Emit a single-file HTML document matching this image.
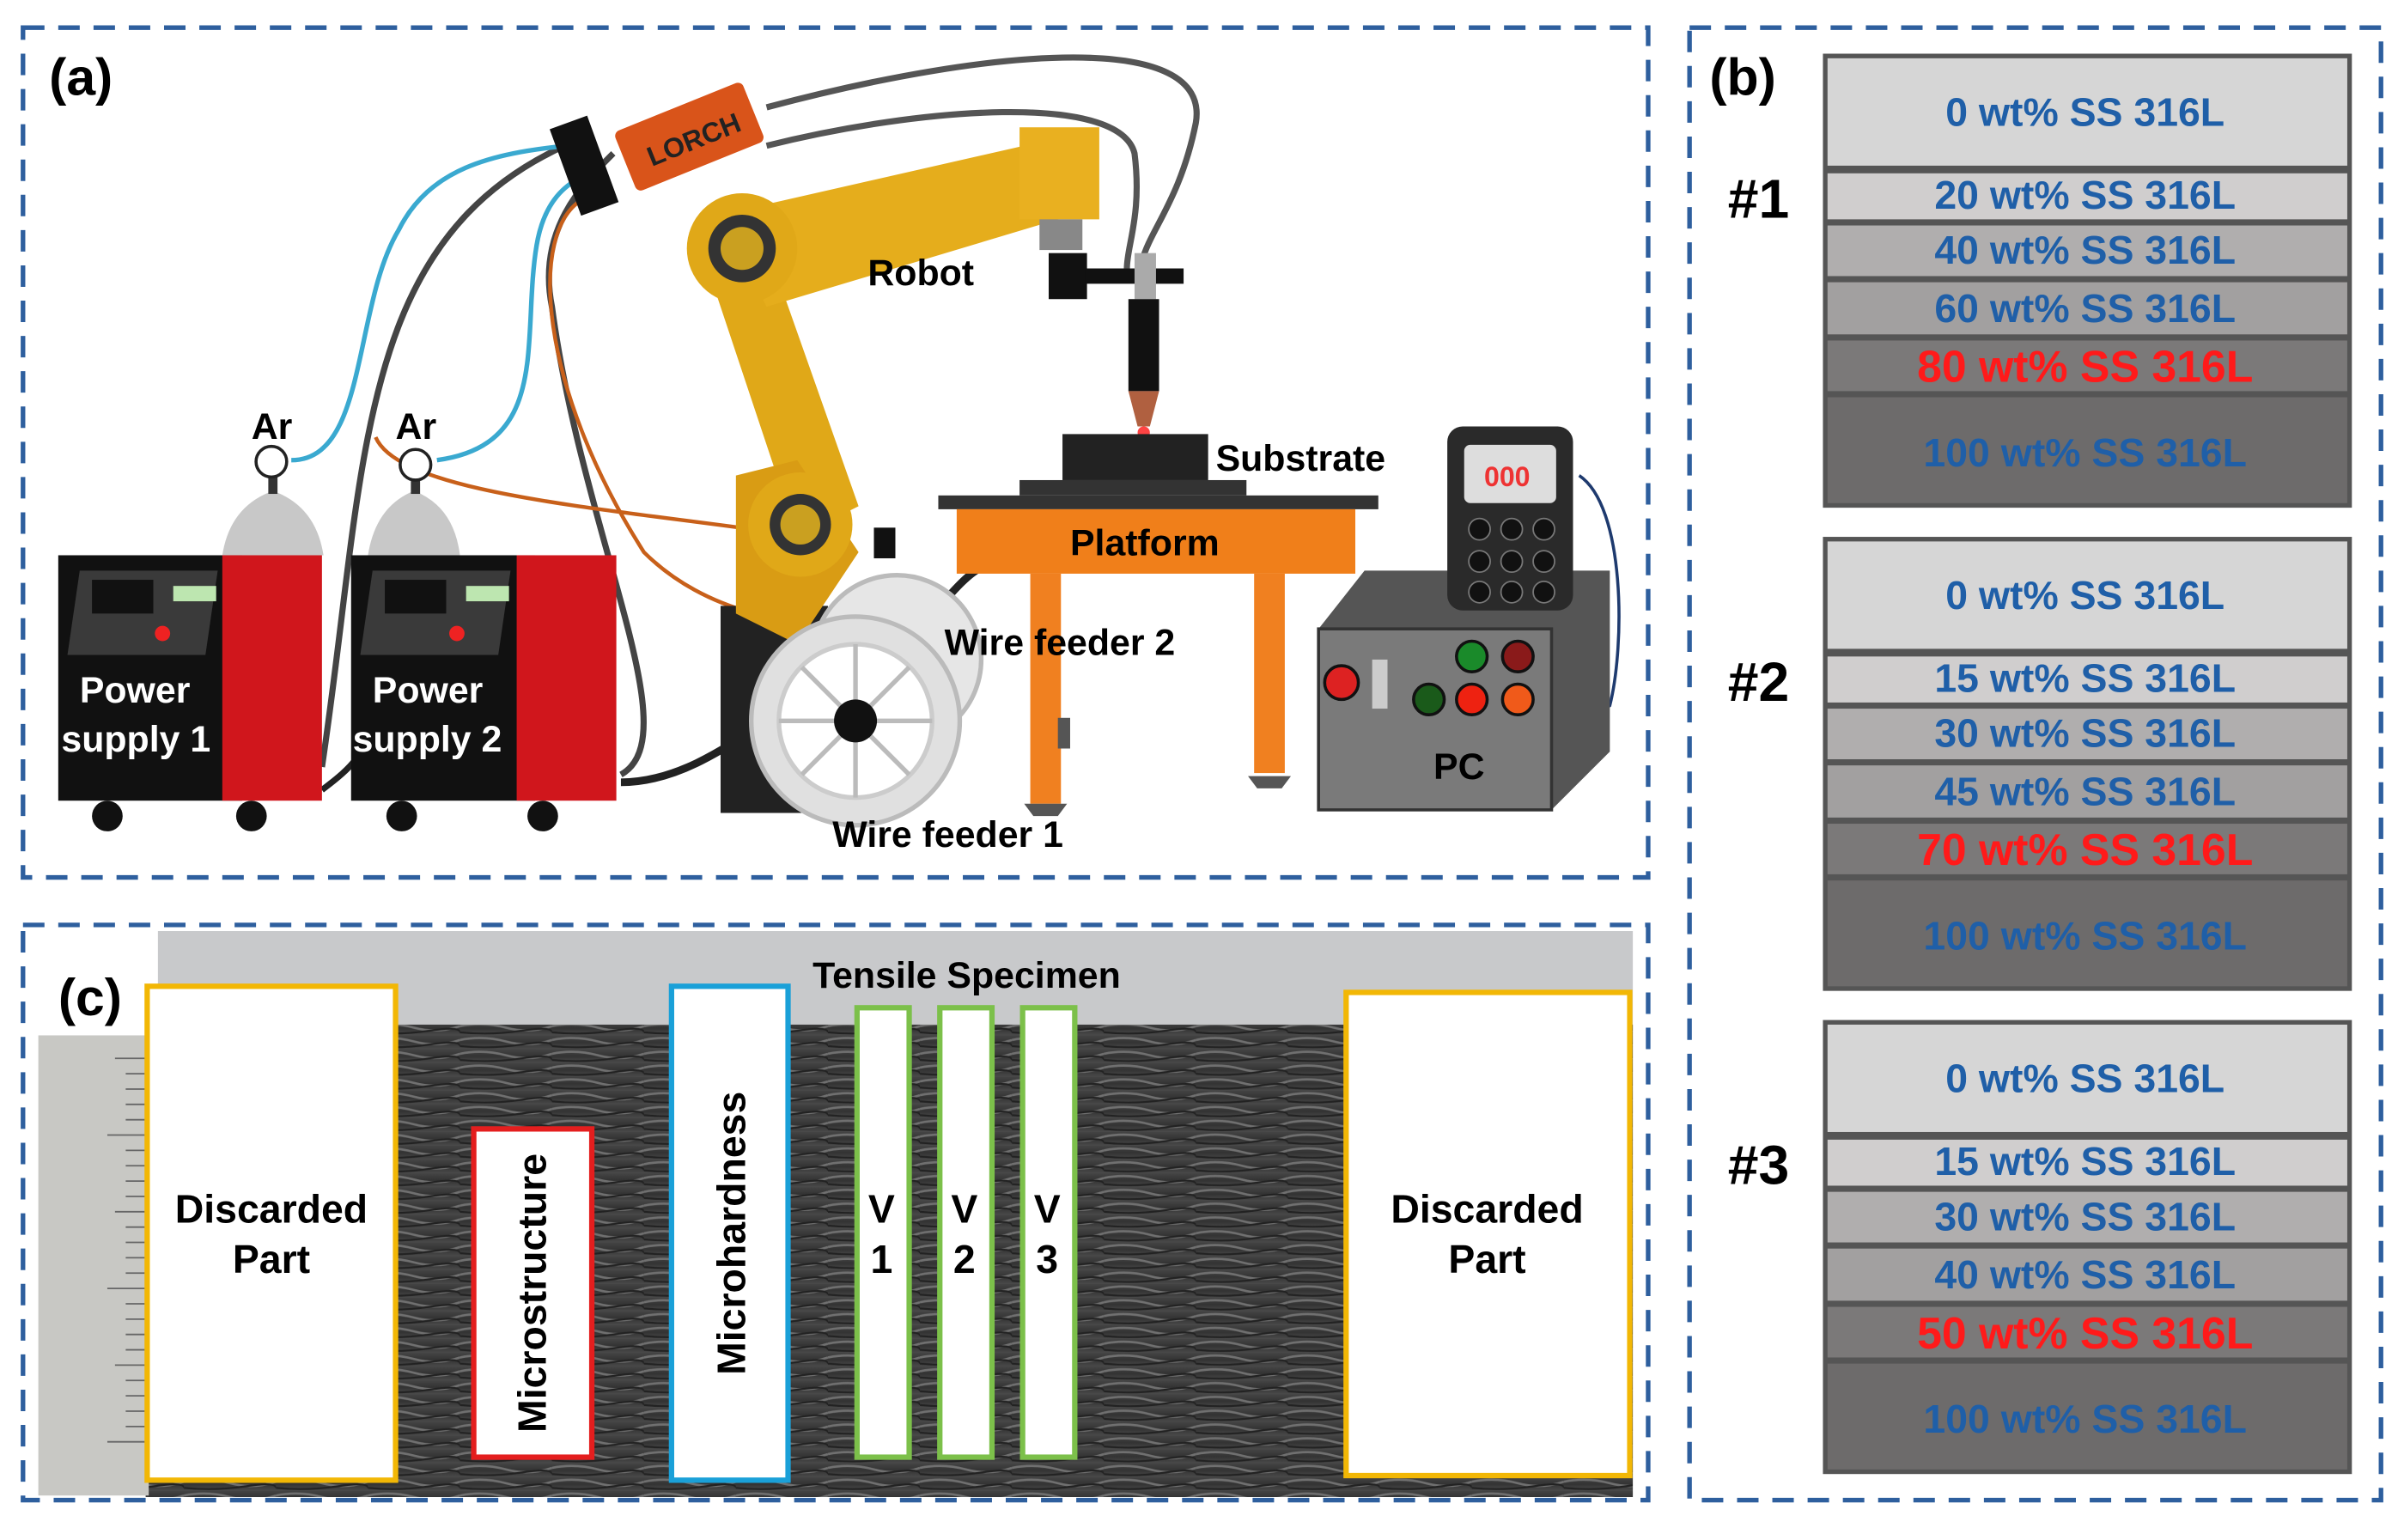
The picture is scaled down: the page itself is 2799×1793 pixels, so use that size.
<!DOCTYPE html>
<html><head><meta charset="utf-8"><style>
html,body{margin:0;padding:0;background:#fff;}
svg{display:block;}
text{font-family:"Liberation Sans",Arial,sans-serif;font-weight:bold;}
</style></head><body>
<svg width="2799" height="1793" viewBox="0 0 1568 1004" preserveAspectRatio="none" xmlns="http://www.w3.org/2000/svg">
<defs>
<linearGradient id="ph" x1="0" y1="0" x2="0" y2="1">
<stop offset="0" stop-color="#444"/><stop offset="0.5" stop-color="#333"/><stop offset="1" stop-color="#4a4a4a"/>
</linearGradient>
<pattern id="stripes" width="60" height="9" patternUnits="userSpaceOnUse">
<rect width="60" height="9" fill="url(#ph)"/>
<path d="M0 3 Q15 0 30 4 T60 3" stroke="#707070" stroke-width="1.5" fill="none"/>
<path d="M0 7 Q20 9 40 6 T60 7" stroke="#222" stroke-width="1.2" fill="none"/>
</pattern>
</defs>
<rect width="1568" height="1004" fill="#fff"/>
<!-- dashed panels -->
<g fill="none" stroke="#2e5f9e" stroke-width="3" stroke-dasharray="14 9">
<rect x="15" y="18" width="1060" height="554"/>
<rect x="1102" y="18" width="451" height="960"/>
<rect x="15" y="603" width="1060" height="375"/>
</g>
<text x="32" y="62" font-size="34">(a)</text>
<text x="1115" y="62" font-size="34">(b)</text>

<!-- panel a cables -->
<g fill="none" stroke-width="4">
<path d="M210 500 C240 300 230 150 380 90" stroke="#444"/>
<path d="M405 505 C450 480 380 350 360 200 C350 150 380 120 400 100" stroke="#444"/>
<path d="M500 70 C650 30 790 20 780 80 C770 130 750 150 745 170" stroke="#555"/>
<path d="M500 95 C600 70 730 60 740 100 C745 140 735 160 735 175" stroke="#555"/>
<path d="M190 300 C240 300 230 200 260 150 C280 110 320 100 370 95" stroke="#3aa9d0" stroke-width="3"/>
<path d="M285 300 C360 290 340 220 350 160 C355 130 370 120 380 115" stroke="#3aa9d0" stroke-width="3"/>
<path d="M245 285 C260 320 380 330 490 345" stroke="#c8601a" stroke-width="2.5"/>
<path d="M380 130 C345 150 350 250 420 360 C460 400 520 410 560 405" stroke="#c8601a" stroke-width="2.5"/>
<path d="M405 510 C440 510 470 490 500 470" stroke="#222" stroke-width="5"/>
<path d="M210 515 C230 500 240 490 240 470" stroke="#222" stroke-width="4"/>
<path d="M560 440 C600 420 620 380 640 370" stroke="#222" stroke-width="5"/>
<path d="M1030 310 C1060 330 1060 420 1050 460 L1020 480" stroke="#1e3a6e" stroke-width="2"/>
</g>
<!-- robot -->
<g>
<rect x="470" y="395" width="70" height="135" fill="#222"/>
<path d="M460 170 L500 160 L560 330 L520 350 Z" fill="#e0a818"/>
<path d="M480 310 L520 300 L560 360 L520 420 L480 400 Z" fill="#d99c14"/>
<path d="M470 140 L690 90 L700 140 L500 200 Z" fill="#e5ad1c"/>
<rect x="665" y="83" width="52" height="60" fill="#e9b020"/>
<circle cx="484" cy="162" r="36" fill="#e0a818"/><circle cx="484" cy="162" r="22" fill="#333"/><circle cx="484" cy="162" r="14" fill="#caa020"/>
<circle cx="522" cy="342" r="34" fill="#e0a818"/><circle cx="522" cy="342" r="20" fill="#333"/><circle cx="522" cy="342" r="13" fill="#caa020"/>
<rect x="678" y="143" width="28" height="20" fill="#888"/>
<rect x="684" y="165" width="25" height="30" fill="#111"/>
<rect x="708" y="175" width="64" height="10" fill="#111"/>
<rect x="740" y="165" width="14" height="30" fill="#aaa"/>
<rect x="736" y="195" width="20" height="60" fill="#111"/>
<path d="M736 255 L756 255 L750 278 L742 278 Z" fill="#b06040"/>
<circle cx="746" cy="282" r="4" fill="#f44"/>
</g>
<!-- LORCH -->
<g transform="rotate(-22 450 90)">
<rect x="405" y="68" width="90" height="42" rx="4" fill="#d9541a"/>
<text x="420" y="98" font-size="18" fill="#222" font-weight="normal">LORCH</text>
</g>
<rect x="368" y="78" width="26" height="60" fill="#111" transform="rotate(-20 381 108)"/>
<text x="566" y="186" font-size="24">Robot</text>
<!-- substrate/platform -->
<rect x="693" y="283" width="95" height="30" fill="#222"/>
<rect x="665" y="313" width="148" height="10" fill="#333"/>
<rect x="612" y="323" width="287" height="9" fill="#333"/>
<text x="793" y="307" font-size="24">Substrate</text>
<rect x="624" y="332" width="260" height="42" fill="#f07f1a"/>
<text x="698" y="362" font-size="24">Platform</text>
<rect x="672" y="374" width="20" height="150" fill="#f08020"/>
<rect x="818" y="374" width="20" height="130" fill="#f08020"/>
<path d="M668 524 h28 l-6 8 h-16z" fill="#555"/>
<path d="M814 506 h28 l-6 8 h-16z" fill="#555"/>
<rect x="690" y="468" width="8" height="20" fill="#555"/>
<!-- wire feeders -->
<circle cx="585" cy="430" r="55" fill="#e6e6e6" stroke="#bbb" stroke-width="3"/>
<rect x="570" y="344" width="14" height="20" fill="#111"/>
<circle cx="558" cy="470" r="68" fill="#e0e0e0" stroke="#bbb" stroke-width="3"/>
<circle cx="558" cy="470" r="50" fill="#fff" stroke="#ccc" stroke-width="3"/>
<g stroke="#bbb" stroke-width="3"><path d="M508 470 H608 M558 420 V520 M523 435 L593 505 M593 435 L523 505"/></g>
<circle cx="558" cy="470" r="14" fill="#111"/>
<text x="616" y="427" font-size="24">Wire feeder 2</text>
<text x="543" y="552" font-size="24">Wire feeder 1</text>
<!-- gas cylinders -->
<path d="M145 362 Q150 330 178 320 Q206 330 211 362 Z" fill="#c8c8c8"/>
<path d="M240 362 Q245 330 270 320 Q296 330 300 362 Z" fill="#c8c8c8"/>
<rect x="175" y="310" width="6" height="12" fill="#333"/><rect x="268" y="310" width="6" height="12" fill="#333"/>
<circle cx="177" cy="301" r="10" fill="#fff" stroke="#222" stroke-width="2"/>
<circle cx="271" cy="303" r="10" fill="#fff" stroke="#222" stroke-width="2"/>
<text x="164" y="286" font-size="24">Ar</text>
<text x="258" y="286" font-size="24">Ar</text>
<!-- power supplies -->
<g>
<rect x="38" y="362" width="120" height="160" fill="#111"/>
<rect x="145" y="362" width="65" height="160" fill="#d0161c"/>
<path d="M52 372 h90 l-8 55 h-90z" fill="#3a3a3a"/>
<rect x="60" y="378" width="40" height="22" fill="#111"/>
<rect x="113" y="382" width="28" height="10" fill="#bde6b0"/>
<circle cx="106" cy="413" r="5" fill="#e22"/>
<text x="52" y="458" font-size="24" fill="#fff">Power</text>
<text x="40" y="490" font-size="24" fill="#fff">supply 1</text>
<circle cx="70" cy="532" r="10" fill="#111"/><circle cx="164" cy="532" r="10" fill="#111"/>
<rect x="229" y="362" width="120" height="160" fill="#111"/>
<rect x="337" y="362" width="65" height="160" fill="#d0161c"/>
<path d="M243 372 h90 l-8 55 h-90z" fill="#3a3a3a"/>
<rect x="251" y="378" width="40" height="22" fill="#111"/>
<rect x="304" y="382" width="28" height="10" fill="#bde6b0"/>
<circle cx="298" cy="413" r="5" fill="#e22"/>
<text x="243" y="458" font-size="24" fill="#fff">Power</text>
<text x="230" y="490" font-size="24" fill="#fff">supply 2</text>
<circle cx="262" cy="532" r="10" fill="#111"/><circle cx="354" cy="532" r="10" fill="#111"/>
</g>
<!-- PC -->
<path d="M860 410 L890 372 L1050 372 L1050 490 L1012 528 Z" fill="#555"/>
<rect x="860" y="410" width="152" height="118" fill="#7a7a7a" stroke="#333" stroke-width="2"/>
<rect x="944" y="278" width="82" height="120" rx="10" fill="#2a2a2a"/>
<rect x="955" y="290" width="60" height="38" rx="4" fill="#ddd"/>
<text x="968" y="317" font-size="18" fill="#e33" font-weight="normal">000</text>
<g fill="#111" stroke="#777"><circle cx="965" cy="345" r="7"/><circle cx="986" cy="345" r="7"/><circle cx="1007" cy="345" r="7"/><circle cx="965" cy="366" r="7"/><circle cx="986" cy="366" r="7"/><circle cx="1007" cy="366" r="7"/><circle cx="965" cy="386" r="7"/><circle cx="986" cy="386" r="7"/><circle cx="1007" cy="386" r="7"/></g>
<circle cx="960" cy="428" r="10" fill="#1a8a2a" stroke="#111" stroke-width="2"/>
<circle cx="990" cy="428" r="10" fill="#8a1a1a" stroke="#111" stroke-width="2"/>
<circle cx="932" cy="456" r="10" fill="#1a5a1a" stroke="#111" stroke-width="2"/>
<circle cx="960" cy="456" r="10" fill="#e21" stroke="#111" stroke-width="2"/>
<circle cx="990" cy="456" r="10" fill="#f05a1a" stroke="#111" stroke-width="2"/>
<circle cx="875" cy="445" r="11" fill="#d22" stroke="#111" stroke-width="2"/>
<rect x="895" y="430" width="10" height="32" fill="#ccc"/>
<text x="935" y="508" font-size="24">PC</text>

<!-- panel b -->
<g font-size="26" text-anchor="middle">
<g id="s1">
<rect x="1189" y="35" width="345" height="296" fill="#555"/>
<rect x="1192" y="38" width="339" height="70" fill="#d6d6d6"/>
<rect x="1192" y="113" width="339" height="30" fill="#d0cece"/>
<rect x="1192" y="147" width="339" height="33" fill="#b0aeae"/>
<rect x="1192" y="184" width="339" height="34" fill="#a2a0a0"/>
<rect x="1192" y="222" width="339" height="33" fill="#7b7979"/>
<rect x="1192" y="259" width="339" height="69" fill="#6d6b6b"/>
</g>
<text x="1360" y="82" fill="#1f5fa8">0 wt% SS 316L</text>
<text x="1360" y="136" fill="#1f5fa8">20 wt% SS 316L</text>
<text x="1360" y="172" fill="#1f5fa8">40 wt% SS 316L</text>
<text x="1360" y="210" fill="#1f5fa8">60 wt% SS 316L</text>
<text x="1360" y="249" fill="#ff1a1a" font-size="29">80 wt% SS 316L</text>
<text x="1360" y="304" fill="#1f5fa8">100 wt% SS 316L</text>
<use href="#s1" transform="translate(0 315)"/>
<text x="1360" y="397" fill="#1f5fa8">0 wt% SS 316L</text>
<text x="1360" y="451" fill="#1f5fa8">15 wt% SS 316L</text>
<text x="1360" y="487" fill="#1f5fa8">30 wt% SS 316L</text>
<text x="1360" y="525" fill="#1f5fa8">45 wt% SS 316L</text>
<text x="1360" y="564" fill="#ff1a1a" font-size="29">70 wt% SS 316L</text>
<text x="1360" y="619" fill="#1f5fa8">100 wt% SS 316L</text>
<use href="#s1" transform="translate(0 630)"/>
<text x="1360" y="712" fill="#1f5fa8">0 wt% SS 316L</text>
<text x="1360" y="766" fill="#1f5fa8">15 wt% SS 316L</text>
<text x="1360" y="802" fill="#1f5fa8">30 wt% SS 316L</text>
<text x="1360" y="840" fill="#1f5fa8">40 wt% SS 316L</text>
<text x="1360" y="879" fill="#ff1a1a" font-size="29">50 wt% SS 316L</text>
<text x="1360" y="934" fill="#1f5fa8">100 wt% SS 316L</text>
</g>
<g font-size="36">
<text x="1127" y="142">#1</text>
<text x="1127" y="457">#2</text>
<text x="1127" y="772">#3</text>
</g>

<!-- panel c -->
<rect x="103" y="607" width="962" height="64" fill="#c8c9cb"/>
<rect x="95" y="668" width="970" height="308" fill="url(#stripes)"/>
<rect x="25" y="675" width="72" height="300" fill="#c8c8c4"/>
<g stroke="#666" stroke-width="1">
<path d="M75 690 H95 M82 700 H95 M82 710 H95 M82 720 H95 M82 730 H95 M70 740 H95 M82 750 H95 M82 760 H95 M82 770 H95 M82 780 H95 M75 790 H95 M82 800 H95 M82 810 H95 M82 820 H95 M82 830 H95 M70 840 H95 M82 850 H95 M82 860 H95 M82 870 H95 M82 880 H95 M75 890 H95 M82 900 H95 M82 910 H95 M82 920 H95 M82 930 H95 M70 940 H95"/>
</g>
<text x="38" y="662" font-size="34">(c)</text>
<text x="530" y="644" font-size="24">Tensile Specimen</text>
<g stroke-width="3.5" fill="#fff">
<rect x="96" y="643" width="162" height="322" stroke="#f2b705"/>
<rect x="309" y="736" width="77" height="214" stroke="#e41e1e"/>
<rect x="438" y="643" width="76" height="322" stroke="#1aa0d8"/>
<rect x="559" y="657" width="34" height="293" stroke="#7cc04a"/>
<rect x="613" y="657" width="34" height="293" stroke="#7cc04a"/>
<rect x="667" y="657" width="34" height="293" stroke="#7cc04a"/>
<rect x="878" y="647" width="185" height="315" stroke="#f2b705"/>
</g>
<g font-size="26" text-anchor="middle">
<text x="177" y="797">Discarded</text><text x="177" y="830">Part</text>
<text x="970" y="797">Discarded</text><text x="970" y="830">Part</text>
<text x="575" y="797">V</text><text x="575" y="830">1</text>
<text x="629" y="797">V</text><text x="629" y="830">2</text>
<text x="683" y="797">V</text><text x="683" y="830">3</text>
<text transform="translate(356 843) rotate(-90)">Microstructure</text>
<text transform="translate(486 804) rotate(-90)">Microhardness</text>
</g>
</svg>
</body></html>
